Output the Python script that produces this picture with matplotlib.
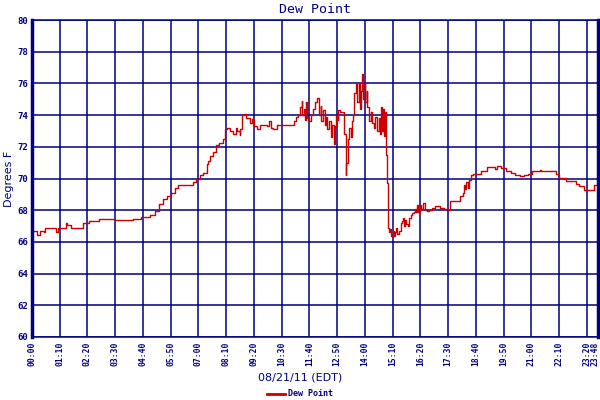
import numpy as np
import matplotlib
matplotlib.use("Agg")
import matplotlib.pyplot as plt
import matplotlib.transforms as mtransforms

# ===================== data (minutes after midnight, deg F) =====================
minutes = [0, 13, 20, 30, 33, 53, 60, 65, 83, 86, 88, 98, 128, 144, 156, 169, 209, 254, 274,
           280, 297, 310, 320, 330, 340, 350, 360, 368, 405, 415, 423, 431, 441, 443, 448, 456,
           463, 471, 481, 488, 491, 499, 506, 514, 516, 524, 526, 531, 536, 541, 549, 554, 559,
           567, 574, 582, 594, 599, 604, 607, 617, 619, 624, 662, 665, 672, 675, 680, 682, 685,
           690, 692, 695, 700, 705, 710, 715, 720, 723, 728, 730, 735, 740, 743, 745, 750, 755,
           758, 763, 765, 768, 771, 773, 778, 788, 791, 793, 798, 801, 806, 808, 811, 813, 818,
           821, 826, 828, 831, 833, 836, 839, 841, 844, 846, 849, 851, 856, 859, 864, 866, 871,
           876, 879, 881, 884, 886, 889, 891, 894, 896, 899, 901, 904, 906, 911, 914, 917, 919,
           922, 927, 932, 934, 937, 939, 942, 944, 949, 952, 957, 959, 964, 967, 969, 972, 974,
           979, 982, 987, 992, 997, 1002, 1010, 1017, 1030, 1040, 1050, 1055, 1078, 1080, 1088,
           1090, 1093, 1095, 1100, 1103, 1108, 1113, 1120, 1133, 1148, 1161, 1168, 1173, 1183,
           1196, 1209, 1219, 1231, 1241, 1251, 1262, 1282, 1284, 1319, 1322, 1330, 1347, 1372,
           1380, 1392, 1405, 1413, 1418, 1423, 1428]
dewpoint = [66.7, 66.45, 66.7, 66.6, 66.9, 66.85, 66.6, 66.9, 66.85, 67.2, 67.05, 66.9, 67.2,
            67.3, 67.35, 67.45, 67.4, 67.45, 67.55, 67.55, 67.7, 67.95, 68.4, 68.7, 68.9, 69.1,
            69.4, 69.6, 69.8, 70.0, 70.2, 70.35, 70.9, 71.1, 71.4, 71.7, 72.1, 72.25, 72.5,
            73.1, 73.2, 73.0, 72.8, 73.2, 73.0, 72.75, 73.1, 74.0, 74.1, 73.8, 73.5, 73.75, 73.3,
            73.1, 73.4, 73.4, 73.3, 73.65, 73.2, 73.1, 73.4, 73.4, 73.4, 73.65, 73.9, 74.0,
            74.5, 74.9, 74.0, 74.4, 73.7, 74.85, 73.8, 73.6, 74.0, 74.4, 74.8, 75.1, 74.0,
            74.6, 73.6, 74.3, 73.4, 73.9, 73.1, 73.6, 72.6, 73.4, 72.2, 73.3, 74.0, 73.7, 74.3,
            74.2, 72.8, 70.2, 71.0, 72.5, 73.2, 72.6, 73.6, 74.0, 75.4, 76.0, 74.8, 76.0, 74.4,
            75.5, 76.6, 75.0, 76.0, 74.8, 75.5, 74.5, 74.0, 73.6, 74.2, 73.5, 73.2, 73.9, 73.0,
            73.8, 72.8, 74.5, 73.0, 74.4, 72.7, 74.2, 71.5, 69.7, 66.9, 66.6, 66.8, 66.35,
            66.7, 66.4, 66.6, 66.9, 66.5, 66.7, 67.2, 67.3, 67.5, 67.0, 67.4, 67.1, 67.0, 67.5,
            67.7, 67.8, 67.9, 68.1, 67.9, 68.3, 67.9, 68.3, 68.1, 68.45, 68.0, 67.95, 68.0,
            68.15, 68.25, 68.15, 68.05, 68.0, 68.55, 68.6, 68.9, 69.1, 69.6, 69.35, 69.8, 69.4,
            69.9, 70.2, 70.3, 70.3, 70.5, 70.7, 70.75, 70.6, 70.8, 70.65, 70.5, 70.35, 70.25,
            70.15, 70.25, 70.3, 70.45, 70.55, 70.5, 70.5, 70.3, 70.05, 69.85, 69.65, 69.5,
            69.3, 69.3, 69.25, 69.6, 69.6, 69.6]

tick_minutes = [0, 70, 140, 210, 280, 350, 420, 490, 560, 630, 700, 770, 840, 910, 980, 1050,
                1120, 1190, 1260, 1330, 1400, 1428]
tick_labels = ["00:00", "01:10", "02:20", "03:30", "04:40", "05:50", "07:00", "08:10", "09:20",
               "10:30", "11:40", "12:50", "14:00", "15:10", "16:20", "17:30", "18:40", "19:50",
               "21:00", "22:10", "23:20", "23:48"]
y_ticks = list(range(60, 81, 2))

NAVY = "#000080"
RED = "#CC0000"
MONO = "DejaVu Sans Mono"

fig = plt.figure(figsize=(6, 4), dpi=100)
ax = fig.add_axes([32 / 600, 63 / 400, 566 / 600, 317 / 400])

ax.plot(minutes, dewpoint, color=RED, linewidth=1.0, drawstyle="steps-post", label="Dew Point")

ax.set_xlim(0, 1428)
ax.set_ylim(60, 80)
ax.set_xticks(tick_minutes)
# last label is drawn by hand below, nudged left so it stays inside the figure
ax.set_xticklabels(tick_labels[:-1] + [""], rotation=90, fontsize=5.8, family=MONO,
                   color=NAVY, fontweight="bold")
blend = mtransforms.blended_transform_factory(ax.transData, ax.transAxes)
last_tr = mtransforms.offset_copy(blend, fig=fig, x=-2.5, y=-3, units="points")
ax.text(tick_minutes[-1], 0, tick_labels[-1], transform=last_tr, rotation=90, ha="center",
        va="top", fontsize=5.8, family=MONO, color=NAVY, fontweight="bold")

ax.set_yticks(y_ticks)
ax.set_yticklabels([str(v) for v in y_ticks], fontsize=6.5, family=MONO, color=NAVY,
                   fontweight="bold")
ax.tick_params(length=0, pad=3)
ax.grid(True, color=NAVY, linewidth=1.1)
ax.set_axisbelow(True)

for side in ["top", "bottom"]:
    ax.spines[side].set_color(NAVY)
    ax.spines[side].set_linewidth(1.1)
for side in ["left", "right"]:
    ax.spines[side].set_color(NAVY)
    ax.spines[side].set_linewidth(2.5)

ax.set_title("Dew Point", fontsize=9.5, family=MONO, color=NAVY, pad=5)
ax.set_ylabel("Degrees F", fontsize=8, color=NAVY, labelpad=2)
fig.text(0.5, 1 - 378 / 400, "08/21/11 (EDT)", ha="center", va="center", fontsize=8,
         color=NAVY)

leg = fig.legend(loc="center", bbox_to_anchor=(0.5, 1 - 394 / 400), frameon=False,
                 fontsize=6, handlelength=2.2, borderpad=0, handletextpad=0.4)
for t in leg.get_texts():
    t.set_color(NAVY)
    t.set_family(MONO)
    t.set_fontweight("bold")
leg.get_lines()[0].set_linewidth(2)

fig.savefig("out.png", dpi=100)
